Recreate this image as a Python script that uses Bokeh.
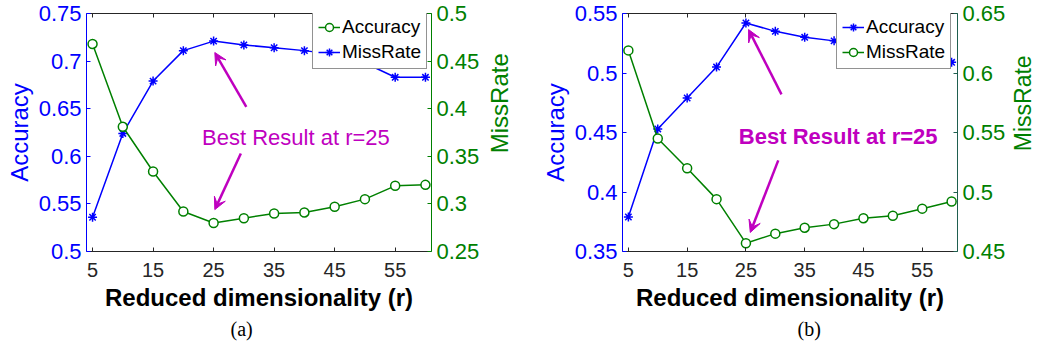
import math
from bokeh.plotting import figure
from bokeh.models import (Range1d, LinearAxis, FixedTicker, Legend, LegendItem,
                          Arrow, VeeHead, Label, Title, CustomJSTickFormatter)
from bokeh.core.properties import value
from bokeh.layouts import row
from bokeh.embed import file_html
from bokeh.resources import INLINE

# ---------------- data ----------------
r_values = [5, 10, 15, 20, 25, 30, 35, 40, 45, 50, 55, 60]
x_ticks = [5, 15, 25, 35, 45, 55]

acc_a = [0.536, 0.624, 0.679, 0.711, 0.721, 0.717, 0.714, 0.711, 0.707, 0.698, 0.683, 0.683]
miss_a = [0.468, 0.381, 0.334, 0.292, 0.280, 0.285, 0.290, 0.291, 0.297, 0.305, 0.319, 0.320]

acc_b = [0.379, 0.453, 0.479, 0.505, 0.542, 0.535, 0.530, 0.527, 0.522, 0.518, 0.513, 0.509]
miss_b = [0.619, 0.545, 0.520, 0.494, 0.457, 0.465, 0.470, 0.473, 0.478, 0.480, 0.486, 0.492]

y_ticks_a_left = [0.5, 0.55, 0.6, 0.65, 0.7, 0.75]
y_ticks_a_right = [0.25, 0.3, 0.35, 0.4, 0.45, 0.5]
y_ticks_b_left = [0.35, 0.4, 0.45, 0.5, 0.55]
y_ticks_b_right = [0.45, 0.5, 0.55, 0.6, 0.65]

annot_text = "Best Result at r=25"
x_label = "Reduced dimensionality (r)"
left_label = "Accuracy"
right_label = "MissRate"

BLUE = "#0000FF"
GREEN = "#008000"
MAG = "#BF00BF"
DARK = "#262626"
FONT = "Liberation Sans"
H = 350
TOP = 13
FRAME_H = 238


def panel(acc, miss, yl, yr, ytl, ytr, legend_order, legend_loc, caption,
          caption_off, arrows, text_xy, bold, borders, right_axis_color, width):
    bl, br = borders
    p = figure(width=width, height=H,
               x_range=Range1d(4, 61), y_range=Range1d(*yl),
               output_backend="svg", toolbar_location=None,
               min_border_left=bl, min_border_right=br,
               min_border_top=TOP, min_border_bottom=H - TOP - FRAME_H,
               x_axis_location=None, y_axis_location=None)
    p.outline_line_color = None
    p.xgrid.grid_line_color = None
    p.ygrid.grid_line_color = None
    p.background_fill_color = "white"
    p.border_fill_color = "white"
    p.extra_y_ranges = {"miss": Range1d(*yr)}

    fmt = CustomJSTickFormatter(code="return String(Math.round(tick*100)/100);")

    # bottom axis
    xb = LinearAxis(ticker=FixedTicker(ticks=x_ticks), axis_label=x_label)
    xb.axis_line_color = DARK
    xb.major_tick_line_color = DARK
    xb.major_tick_in = 4
    xb.major_tick_out = 0
    xb.minor_tick_line_color = None
    xb.major_label_text_font = FONT
    xb.major_label_text_font_size = "20px"
    xb.major_label_text_color = DARK
    xb.major_label_standoff = 11
    xb.axis_label_text_font = FONT
    xb.axis_label_text_font_style = "bold"
    xb.axis_label_text_font_size = "24px"
    xb.axis_label_text_color = "black"
    xb.axis_label_standoff = 4
    p.add_layout(xb, "below")

    # caption below
    cap = Title(text=caption, align="left", offset=caption_off,
                text_font="Liberation Serif", text_font_size="20px",
                text_font_style="normal", text_color="black", standoff=5)
    p.add_layout(cap, "below")

    # top axis (box)
    xt = LinearAxis(ticker=FixedTicker(ticks=x_ticks))
    xt.axis_line_color = DARK
    xt.major_tick_line_color = DARK
    xt.major_tick_in = 4
    xt.major_tick_out = 0
    xt.minor_tick_line_color = None
    xt.major_label_text_font_size = "0px"
    xt.major_label_text_alpha = 0
    xt.major_label_standoff = 0
    p.add_layout(xt, "above")

    # left axis
    ya = LinearAxis(ticker=FixedTicker(ticks=ytl), formatter=fmt, axis_label=left_label)
    ya.axis_line_color = BLUE
    ya.major_tick_line_color = BLUE
    ya.major_tick_in = 4
    ya.major_tick_out = 0
    ya.minor_tick_line_color = None
    ya.major_label_text_font = FONT
    ya.major_label_text_font_size = "22px"
    ya.major_label_text_color = BLUE
    ya.major_label_standoff = 5
    ya.axis_label_text_font = FONT
    ya.axis_label_text_font_style = "normal"
    ya.axis_label_text_font_size = "24px"
    ya.axis_label_text_color = BLUE
    ya.axis_label_standoff = 3
    p.add_layout(ya, "left")

    # right axis (its title is drawn in a narrow strip next to the panel)
    yb = LinearAxis(ticker=FixedTicker(ticks=ytr), formatter=fmt, y_range_name="miss")
    yb.axis_line_color = right_axis_color
    yb.major_tick_line_color = right_axis_color
    yb.major_tick_in = 4
    yb.major_tick_out = 0
    yb.minor_tick_line_color = None
    yb.major_label_text_font = FONT
    yb.major_label_text_font_size = "22px"
    yb.major_label_text_color = GREEN
    yb.major_label_standoff = 5
    p.add_layout(yb, "right")

    # series
    la = p.line(r_values, acc, line_color=BLUE, line_width=1.5)
    sa = p.scatter(r_values, acc, marker="asterisk", size=9, line_color=BLUE, line_width=1.5)
    lm = p.line(r_values, miss, line_color=GREEN, line_width=1.5, y_range_name="miss")
    sm = p.scatter(r_values, miss, marker="circle", size=9, line_color=GREEN,
                   fill_color="white", line_width=1.5, y_range_name="miss")

    rend = {"blue": [la, sa], "green": [lm, sm]}
    items = [LegendItem(label=lab, renderers=rend[col]) for lab, col in legend_order]
    leg = Legend(items=items, location=legend_loc)
    leg.border_line_color = DARK
    leg.border_line_width = 1
    leg.background_fill_color = "white"
    leg.background_fill_alpha = 1
    leg.label_text_font = FONT
    leg.label_text_font_size = "19px"
    leg.label_text_color = "black"
    leg.glyph_width = 22
    leg.glyph_height = 20
    leg.label_height = 20
    leg.label_standoff = 2
    leg.padding = 5
    leg.spacing = 3
    leg.margin = 0
    p.add_layout(leg)

    for (xs, ys, xe, ye) in arrows:
        p.add_layout(Arrow(x_start=xs, y_start=ys, x_end=xe, y_end=ye,
                           line_color=MAG, line_width=2.5,
                           end=VeeHead(size=12, line_color=MAG, line_width=1,
                                       fill_color=MAG)))
    p.add_layout(Label(x=text_xy[0], y=text_xy[1], text=annot_text,
                       text_align="center", text_baseline="alphabetic",
                       text_color=MAG, text_font=FONT, text_font_size="22px",
                       text_font_style="bold" if bold else "normal"))
    return p


def strip(w, cx, fs):
    s = figure(width=w, height=H, x_range=Range1d(0, w), y_range=Range1d(0, H),
               output_backend="svg", toolbar_location=None, min_border=0,
               x_axis_location=None, y_axis_location=None)
    s.outline_line_color = None
    s.xgrid.grid_line_color = None
    s.ygrid.grid_line_color = None
    # vertical centre of the neighbouring frame
    s.text(x=[cx], y=[H - TOP - FRAME_H / 2], text=[right_label], angle=math.pi / 2,
           text_align="center", text_baseline="middle", text_color=GREEN,
           text_font=value(FONT), text_font_size=fs, text_line_height=1.0)
    return s


p1 = panel(acc_a, miss_a, (0.5, 0.75), (0.25, 0.5), y_ticks_a_left, y_ticks_a_right,
           [("Accuracy", "green"), ("MissRate", "blue")], (226, 182), "(a)", 144,
           [(30.4, 0.652, 25.2, 0.709), (29.5, 0.603, 25.2, 0.544)],
           (38.6, 0.620), False, (86, 50), GREEN, 482)
s1 = strip(38, 17, "24px")

p2 = panel(acc_b, miss_b, (0.35, 0.55), (0.45, 0.65), y_ticks_b_left, y_ticks_b_right,
           [("Accuracy", "blue"), ("MissRate", "green")], (214, 182), "(b)", 175,
           [(31.05, 0.482, 25.45, 0.5365), (30.5, 0.4266, 25.74, 0.366)],
           (40.7, 0.447), True, (102, 48), "#1F5F4F", 488)
s2 = strip(28, 14, "23px")

layout = row(p1, s1, p2, s2)
open("out.html", "w").write(file_html(layout, INLINE))
